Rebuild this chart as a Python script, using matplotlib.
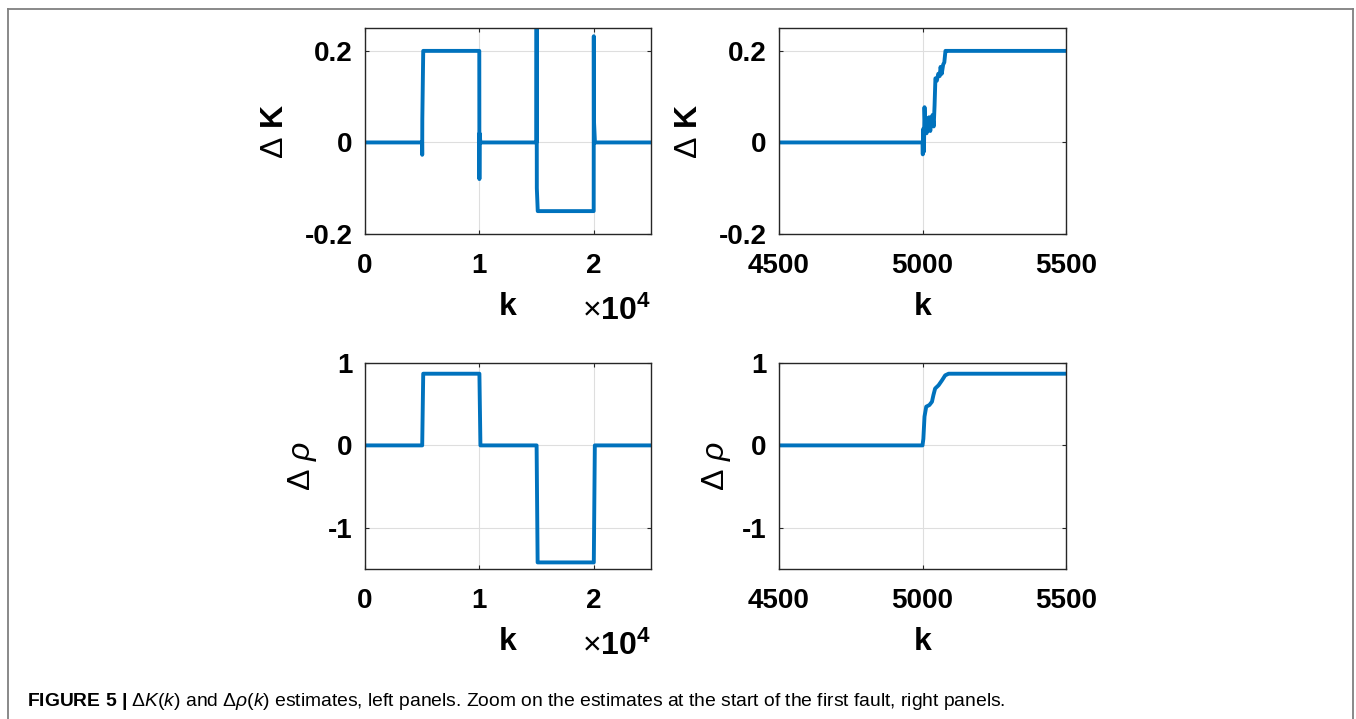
import numpy as np
import matplotlib
matplotlib.use('Agg')
import matplotlib.pyplot as plt
from matplotlib.ticker import FuncFormatter
from matplotlib.lines import Line2D

plt.rcParams['font.family'] = ['Liberation Sans', 'DejaVu Sans']
plt.rcParams['font.weight'] = 'bold'
plt.rcParams['axes.unicode_minus'] = False
plt.rcParams['mathtext.fontset'] = 'custom'
plt.rcParams['mathtext.rm'] = 'Liberation Sans:weight=normal'
plt.rcParams['mathtext.it'] = 'Liberation Sans:style=italic:weight=normal'
plt.rcParams['mathtext.bf'] = 'Liberation Sans:weight=bold'

# full run, delta K estimate
k_full_K = [0, 4990, 5000, 5010, 5090, 9990, 10000, 10010, 10090,
            14980, 15000, 15020, 15100, 19990, 20000, 20010, 20100, 25000]
dK_full = [0, 0, -0.027, 0.05, 0.2, 0.2, -0.08, 0.02, 0,
           0, 0.3, -0.1, -0.15, -0.15, 0.232, 0.05, 0, 0]

# full run, delta rho estimate
k_full_rho = [0, 5000, 5090, 10000, 10090, 15000, 15090, 20000, 20090, 25000]
drho_full = [0, 0, 0.87, 0.87, 0, 0, -1.42, -1.42, 0, 0]

# zoom on first fault start
k_zoom_K = [4500, 5000, 5001, 5002, 5003, 5005, 5007, 5009, 5011, 5014, 5017,
            5020, 5023, 5027, 5031, 5035, 5039, 5042, 5045, 5050, 5055, 5060,
            5063, 5067, 5072, 5076, 5080, 5085, 5500]
dK_zoom = [0, 0, -0.026, 0.01, 0.03, -0.02, 0.077, 0.04, 0.055, 0.02, 0.05,
           0.03, 0.055, 0.025, 0.045, 0.06, 0.035, 0.08, 0.14, 0.135, 0.15, 0.145,
           0.165, 0.15, 0.17, 0.175, 0.2, 0.2, 0.2]

k_zoom_rho = [4500, 5000, 5003, 5007, 5013, 5024, 5033, 5038, 5044, 5056,
              5068, 5079, 5091, 5500]
drho_zoom = [0, 0, 0.08, 0.35, 0.47, 0.49, 0.53, 0.61, 0.69, 0.73,
             0.79, 0.85, 0.87, 0.87]

blue = '#0072BD'
W, H = 1356, 719
fig = plt.figure(figsize=(W / 100, H / 100), dpi=100)

def box(l, t, r, b):
    return [l / W, 1 - b / H, (r - l) / W, (b - t) / H]

ax_tl = fig.add_axes(box(365, 28, 651, 234))
ax_tr = fig.add_axes(box(779, 28, 1066, 234))
ax_bl = fig.add_axes(box(365, 363, 651, 569))
ax_br = fig.add_axes(box(779, 363, 1066, 569))

ax_tl.plot(k_full_K, dK_full, color=blue, lw=2.8)
ax_tr.plot(k_zoom_K, dK_zoom, color=blue, lw=2.8)
ax_bl.plot(k_full_rho, drho_full, color=blue, lw=2.8)
ax_br.plot(k_zoom_rho, drho_zoom, color=blue, lw=2.8)

for ax in [ax_tl, ax_bl]:
    ax.set_xlim(0, 25000)
    ax.set_xticks([0, 10000, 20000])
    ax.xaxis.set_major_formatter(FuncFormatter(lambda v, p: '%d' % round(v / 1e4)))
    ax.text(1.0, -0.45, r'$\times\mathbf{10}^{\mathbf{4}}$', transform=ax.transAxes,
            ha='right', va='bottom', fontsize=23)
for ax in [ax_tr, ax_br]:
    ax.set_xlim(4500, 5500)
    ax.set_xticks([4500, 5000, 5500])

for ax in [ax_tl, ax_tr]:
    ax.set_ylim(-0.2, 0.25)
    ax.set_yticks([-0.2, 0, 0.2])
    ax.set_yticklabels(['-0.2', '0', '0.2'])
    ax.set_ylabel(r'$\Delta\ \mathbf{K}$', fontsize=23)
    ax.yaxis.set_label_coords(-0.262, 0.5)
for ax in [ax_bl, ax_br]:
    ax.set_ylim(-1.5, 1)
    ax.set_yticks([-1, 0, 1])
    ax.set_yticklabels(['-1', '0', '1'])
    ax.set_ylabel(r'$\Delta\ \rho$', fontsize=23)
    ax.yaxis.set_label_coords(-0.16, 0.5)

for ax in [ax_tl, ax_tr, ax_bl, ax_br]:
    ax.grid(True, color='#dedede', lw=0.8)
    ax.set_axisbelow(True)
    ax.tick_params(direction='in', length=3, width=0.8, top=True, right=True,
                   labelsize=20, color='#262626')
    ax.tick_params(axis='x', pad=14)
    ax.tick_params(axis='y', pad=9)
    for s in ax.spines.values():
        s.set_color('#262626')
        s.set_linewidth(1.0)
    ax.set_xlabel('k', fontsize=23, fontweight='bold')
    ax.xaxis.set_label_coords(0.5, -0.28)

# frame around the figure
fig.add_artist(Line2D([8 / W, 1353 / W], [1 - 9 / H, 1 - 9 / H], color='#808080', lw=1.3))
fig.add_artist(Line2D([8 / W, 8 / W], [1 - 9 / H, 0], color='#808080', lw=1.3))
fig.add_artist(Line2D([1353 / W, 1353 / W], [1 - 9 / H, 0], color='#808080', lw=1.3))

fig.text(27 / W, 1 - 706 / H,
         r'$\mathbf{FIGURE\ 5\ |}$ $\Delta K(k)$ and $\Delta\rho(k)$ estimates, left panels. '
         r'Zoom on the estimates at the start of the first fault, right panels.',
         fontsize=13.85, fontweight='normal', ha='left', va='baseline')

fig.savefig('out.png', dpi=100)
